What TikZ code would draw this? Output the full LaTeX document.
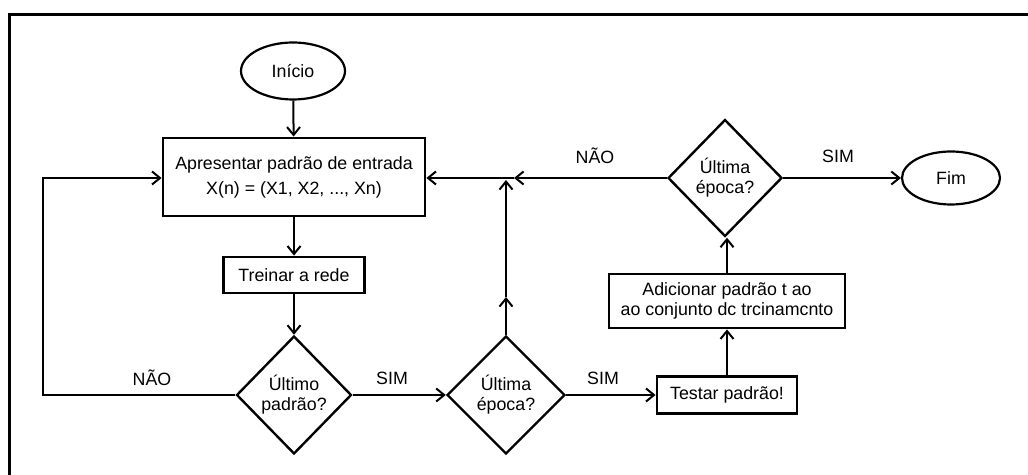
\documentclass[tikz,border=0pt]{standalone}
\usepackage{fontspec}
\setmainfont{Liberation Sans}
\usetikzlibrary{shapes.geometric,arrows.meta}
\tikzset{
  every node/.style={font=\fontsize{8.9pt}{10pt}\selectfont, inner sep=0pt, align=center},
  procbox/.style={draw, line width=1.4pt, rectangle},
  term/.style={draw, line width=1.1pt, ellipse},
  decision/.style={draw, line width=1.2pt, diamond},
  conn/.style={line width=1pt, -{Straight Barb[length=4pt,width=6.5pt,line width=1pt]}},
  lbl/.style={font=\fontsize{8.9pt}{10pt}\selectfont}
}
\begin{document}
\begin{tikzpicture}[x=0.5pt,y=-0.5pt]
\useasboundingbox (0,0) rectangle (1028,475);
\fill[white] (0,0) rectangle (1028,475);
\draw[line width=1.5pt] (9,476) -- (9,15) -- (1029,15);

\node[term, minimum width=52pt, minimum height=28.5pt] (inicio) at (293,71) {Início};
\node[procbox, minimum width=131pt, minimum height=39pt, font=\fontsize{8.9pt}{12.5pt}\selectfont] (apres) at (294,177) {Apresentar padrão de entrada\\X(n) = (X1, X2, ..., Xn)};
\node[procbox, minimum width=70.5pt, minimum height=18pt] (treinar) at (294,275) {Treinar a rede};
\node[decision, minimum width=57.5pt, minimum height=59pt] (d1) at (294,395) {Último\\padrão?};
\node[decision, minimum width=59pt, minimum height=59pt] (d2) at (506,395) {Última\\época?};
\node[procbox, minimum width=70pt, minimum height=18.5pt] (testar) at (727,395) {Testar padrão!};
\node[procbox, minimum width=118pt, minimum height=27pt] (adic) at (727,301) {Adicionar padrão t ao\\ao conjunto dc trcinamcnto};
\node[decision, minimum width=57pt, minimum height=58.5pt] (d3) at (725,178) {Última\\época?};
\node[term, minimum width=49pt, minimum height=26.5pt] (fim) at (951,178) {Fim};

\coordinate (left) at (43,395);
\coordinate (lefttop) at (43,178);
\coordinate (j) at (506,178);
\coordinate (jr) at (514,178);
\coordinate (mid) at (506,297);

\draw[conn] (inicio) -- (apres);
\draw[conn] (apres) -- (treinar);
\draw[conn] (treinar) -- (d1);
\draw[conn] (d1.west) -- (left) -- (lefttop) -- (lefttop -| apres.west);
\draw[conn] (d1.east) -- (d2.west);
\draw[conn] (d2.east) -- (testar.west);
\draw[conn] (testar) -- (adic);
\draw[conn] (adic.north) -- (adic.north |- d3.south);
\draw[conn] (d3.east) -- (fim.west);
\draw[conn] (d3.west) -- (jr);
\draw[conn] (jr) -- (apres.east |- j);
\draw[conn] (d2.north) -- (mid);
\draw[conn] (mid) -- ([yshift=-1pt]j);

\node[lbl] (l1) at (152,378) {NÃO};
\node[lbl] (l2) at (392,378) {SIM};
\node[lbl] (l3) at (603,378) {SIM};
\node[lbl] (l4) at (595,156) {NÃO};
\node[lbl] (l5) at (838,156) {SIM};
\end{tikzpicture}
\end{document}
